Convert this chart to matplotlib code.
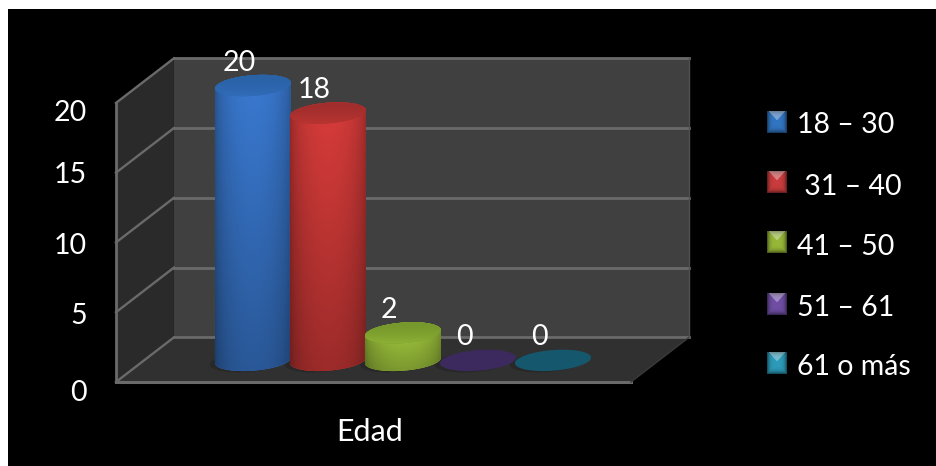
import numpy as np
import matplotlib
matplotlib.use('Agg')
import matplotlib.pyplot as plt
from matplotlib.patches import Polygon, Rectangle

plt.rcParams['font.family'] = ['Lato', 'DejaVu Sans']

# data
series = ['18 – 30', ' 31 – 40', '41 – 50', '51 – 61', '61 o más']
values = [20, 18, 2, 0, 0]
y_ticks = [0, 5, 10, 15, 20]
category = 'Edad'

side_colors = ['#3a7ad2', '#d83c3a', '#a8d040', '#3c2a5e', '#15586e']
top_colors = ['#2a62a6', '#a02e2c', '#76982c', '#3c2a5e', '#15586e']
swatch_colors = ['#2f6fb8', '#c0393a', '#8fae35', '#6a4a9c', '#2a93b0']

W, H = 936, 466
fig = plt.figure(figsize=(W / 100, H / 100), dpi=100, facecolor='white')

# chart axes: x = position of the bar, y = value
ax = fig.add_axes([0, 0, 1, 1])
ax.set_xlim(-3.373, 9.107)
ax.set_ylim(-6.02, 27.38)
ax.axis('off')

x0, x1 = -1.827, 5.04       # front edge of the floor
dx, dy = 0.773, 3.2         # depth of the box
ymax = max(y_ticks)
rx, ry, shear = 0.507, 0.74, 0.2
base = dy / 2 - 0.05        # cylinders stand half way into the box
height_scale = 0.985

ax.add_patch(Rectangle((-10, -10), 30, 50, fc='black', ec='none', zorder=0))
ax.add_patch(Polygon([(x0 + dx, dy), (x1 + dx, dy), (x1 + dx, ymax + dy), (x0 + dx, ymax + dy)],
                     fc='#404040', ec='none', zorder=1))
ax.add_patch(Polygon([(x0, 0), (x0 + dx, dy), (x0 + dx, ymax + dy), (x0, ymax)],
                     fc='#2a2a2a', ec='none', zorder=1))
ax.add_patch(Polygon([(x0, 0), (x1, 0), (x1 + dx, dy), (x0 + dx, dy)],
                     fc='#303030', ec='none', zorder=1))

grid = '#6a6a6a'
for t in y_ticks:
    ax.plot([x0 + dx, x1 + dx], [t + dy, t + dy], color=grid, lw=2, zorder=2)
    ax.plot([x0, x0 + dx], [t, t + dy], color=grid, lw=1.7, zorder=2)
ax.plot([x0, x0], [0, ymax], color=grid, lw=2, zorder=2)
ax.plot([x0, x1], [0, 0], color=grid, lw=2.2, zorder=2)
ax.plot([x1, x1 + dx], [0, dy], color='#3a3a3a', lw=1, zorder=2)
ax.plot([x1 + dx, x1 + dx], [dy, ymax + dy], color='#505050', lw=1, zorder=2)


def ellipse(cx, cy, t):
    return cx + rx * np.cos(t), cy + ry * np.sin(t) + shear * np.cos(t)


def side_shade(color):
    rgb = np.array(matplotlib.colors.to_rgb(color))
    u = np.linspace(-1, 1, 120)
    v = np.linspace(1.0, 0.72, 80)
    across = 0.62 + 0.38 * np.sqrt(1 - (u * 0.98) ** 2)
    return np.clip(rgb[None, None, :] * (v[:, None] * across[None, :])[:, :, None], 0, 1)


def lid_shade(back, front):
    a = np.array(matplotlib.colors.to_rgb(back))
    b = np.array(matplotlib.colors.to_rgb(front))
    v = 0.55 * np.linspace(0, 1, 40) ** 2
    return (a[None, :] * (1 - v[:, None]) + b[None, :] * v[:, None])[:, None, :]


theta = np.linspace(0, 2 * np.pi, 120)
for i, (val, sc, tc) in enumerate(zip(values, side_colors, top_colors)):
    h = val * height_scale
    z = 4 + i
    # soft shadow on the floor
    sx, sy = ellipse(i - 0.07, base - 0.1, theta)
    ax.fill(sx, sy, color='#222222', alpha=0.5, lw=0, zorder=3)
    ex, ey = ellipse(i, base + h, theta)
    if val > 0:
        lower = np.linspace(np.pi, 2 * np.pi, 60)
        upper = np.linspace(0, np.pi, 60)
        bx, by = ellipse(i, base, lower)
        tx, ty = ellipse(i, base + h, upper)
        body = Polygon(np.column_stack([np.r_[bx, tx], np.r_[by, ty]]), fc=sc, ec='none', zorder=z)
        ax.add_patch(body)
        im = ax.imshow(side_shade(sc), extent=(i - rx, i + rx, base - ry - shear, base + h + ry + shear),
                       aspect='auto', zorder=z, interpolation='bilinear')
        im.set_clip_path(body)
        lid = Polygon(np.column_stack([ex, ey]), fc=tc, ec='none', zorder=z + 0.1)
        ax.add_patch(lid)
        li = ax.imshow(lid_shade(tc, sc), extent=(i - rx, i + rx, base + h - ry - shear, base + h + ry + shear),
                       aspect='auto', origin='upper', zorder=z + 0.1, interpolation='bilinear')
        li.set_clip_path(lid)
    else:
        ax.fill(ex, ey, color=tc, lw=0, zorder=z + 0.1)
    ax.annotate(str(val), (i, base + h), xytext=(-14, 23), textcoords='offset pixels',
                ha='center', va='center', color='white', fontsize=20.5, zorder=20)

ax.set_xlim(-3.373, 9.107)
ax.set_ylim(-6.02, 27.38)

# layout overlay in image pixels
ov = fig.add_axes([0, 0, 1, 1], facecolor='none')
ov.set_xlim(0, W)
ov.set_ylim(H, 0)
ov.axis('off')

ov.add_patch(Rectangle((0, 0), W, 9, fc='white', ec='none'))
ov.add_patch(Rectangle((0, 0), 8, H, fc='white', ec='none'))

tick_y = [393, 316, 246, 175, 113]
for t, ty in zip(y_ticks, tick_y):
    ov.text(87, ty, str(t), ha='right', va='center', color='white', fontsize=20.5)

ov.text(370, 432, category, ha='center', va='center', color='white', fontsize=22)

legend_y = [122, 182, 242, 304, 363]
legend_text_y = [125, 187, 247, 308, 367]
yy, xx = np.mgrid[-1:1:20j, -1:1:20j]
for name, col, ly, ty in zip(series, swatch_colors, legend_y, legend_text_y):
    rgb = np.array(matplotlib.colors.to_rgb(col))
    edge = np.maximum(np.abs(xx), np.abs(yy))
    shade = 1.05 - 0.5 * edge ** 4
    img = rgb[None, None, :] * shade[:, :, None]
    # light wedge pointing down from the top edge
    wedge = (np.abs(xx) < -(yy + 0.1) * 0.9) & (yy < 0.0)
    img[wedge] = np.clip(img[wedge] * 0.65 + 0.35, 0, 1)
    ov.imshow(np.clip(img, 0, 1), extent=(767, 787, ly + 11, ly - 11), aspect='auto',
              interpolation='bilinear', zorder=3)
    ov.text(797, ty, name, ha='left', va='center', color='white', fontsize=20.5)

ov.set_xlim(0, W)
ov.set_ylim(H, 0)

fig.savefig('out.png', dpi=100, facecolor='white')
